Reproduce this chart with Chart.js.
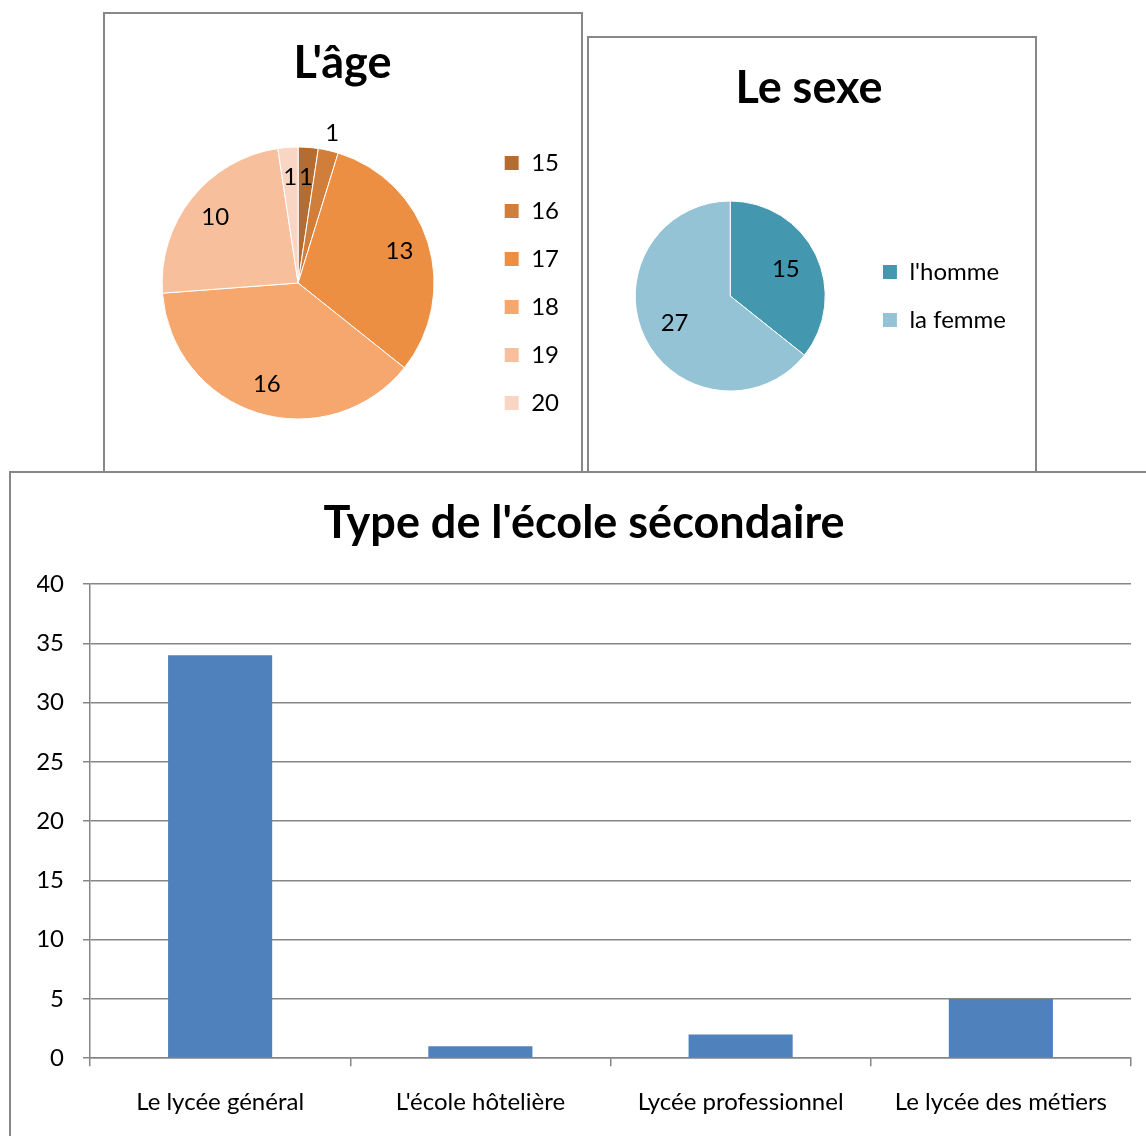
<!DOCTYPE html>
<html>
<head>
<meta charset="utf-8">
<script src="https://cdn.jsdelivr.net/npm/chart.js@4.4.1/dist/chart.umd.min.js"></script>
<style>
  html, body { margin: 0; padding: 0; background: #fff; }
  body { width: 1146px; height: 1136px; overflow: hidden; position: relative; }
  .panel { position: absolute; box-sizing: border-box; border: 2px solid #878787; background: #fff; }
  .panel canvas { position: absolute; left: -2px; top: -2px; }
</style>
</head>
<body>
<div class="panel" style="left:103px; top:12px; width:480px; height:520px;">
  <canvas id="ageChart" width="479" height="459"></canvas>
</div>
<div class="panel" style="left:587px; top:36px; width:450px; height:500px;">
  <canvas id="sexChart" width="448" height="435"></canvas>
</div>
<div class="panel" style="left:9px; top:471px; width:1150px; height:700px; z-index:2;">
  <canvas id="schoolChart" width="1150" height="700"></canvas>
</div>

<script>
// Age distribution
const ageLabels = ['15', '16', '17', '18', '19', '20'];
const ageValues = [1, 1, 13, 16, 10, 1];
const ageColors = ['#b46c31', '#d07e39', '#ec8f43', '#f6a76d', '#f8bf9d', '#f9d5c4'];

// Sex distribution
const sexLabels = ["l'homme", 'la femme'];
const sexValues = [15, 27];
const sexColors = ['#4398b0', '#93c3d5'];

// Secondary school type
const schoolLabels = ['Le lycée général', "L'école hôtelière", 'Lycée professionnel', 'Le lycée des métiers'];
const schoolValues = [34, 1, 2, 5];
const schoolColor = '#4f81bd';

const FONT = 'Lato, "Noto Sans", sans-serif';
const GREY = '#868686';
const TEXT_SIZE = 24;
const TITLE_SIZE = 45;

Chart.defaults.font.family = FONT;
Chart.defaults.color = '#000';
Chart.defaults.animation = false;

// value labels on pie slices; a label that would touch the previous one moves outside the pie
const sliceLabels = {
  id: 'sliceLabels',
  afterDatasetsDraw(chart, args, opts) {
    const { ctx } = chart;
    const meta = chart.getDatasetMeta(0);
    const values = chart.data.datasets[0].data;
    ctx.save();
    ctx.font = TEXT_SIZE + 'px ' + FONT;
    ctx.fillStyle = '#000';
    ctx.textAlign = 'center';
    ctx.textBaseline = 'middle';
    let prev = null;
    meta.data.forEach((arc, i) => {
      const { x, y, startAngle, endAngle, outerRadius } =
        arc.getProps(['x', 'y', 'startAngle', 'endAngle', 'outerRadius'], true);
      const mid = (startAngle + endAngle) / 2;
      const text = String(values[i]);
      const w = ctx.measureText(text).width;
      let r = outerRadius * opts.inside;
      let px = x + Math.cos(mid) * r;
      let py = y + Math.sin(mid) * r;
      if (prev && Math.abs(px - prev.x) < (w + prev.w) / 2 + 6 && Math.abs(py - prev.y) < TEXT_SIZE) {
        r = outerRadius * opts.outside;
        px = x + Math.cos(mid) * r;
        py = y + Math.sin(mid) * r;
      }
      ctx.fillText(text, px, py);
      prev = { x: px, y: py, w };
    });
    ctx.restore();
  }
};

function pieOptions(title, radius, padding, titlePad, labelPos) {
  return {
    responsive: false,
    radius: radius,
    layout: { padding: padding },
    plugins: {
      title: {
        display: true,
        text: title,
        font: { size: TITLE_SIZE, weight: 'bold' },
        padding: titlePad
      },
      legend: {
        position: 'right',
        fullSize: false,
        labels: { boxWidth: 15, boxHeight: 15, padding: 24, font: { size: TEXT_SIZE } }
      },
      tooltip: { enabled: false },
      sliceLabels: labelPos
    }
  };
}

new Chart(document.getElementById('ageChart'), {
  type: 'pie',
  data: {
    labels: ageLabels,
    datasets: [{
      data: ageValues,
      backgroundColor: ageColors,
      borderColor: '#fff',
      borderWidth: 1,
      hoverOffset: 0
    }]
  },
  options: pieOptions("L'âge", 136, { left: 13, right: 13, top: 0, bottom: 17 },
    { top: 24, bottom: 22 }, { inside: 0.78, outside: 1.13 }),
  plugins: [sliceLabels]
});

new Chart(document.getElementById('sexChart'), {
  type: 'pie',
  data: {
    labels: sexLabels,
    datasets: [{
      data: sexValues,
      backgroundColor: sexColors,
      borderColor: '#fff',
      borderWidth: 1,
      hoverOffset: 0
    }]
  },
  options: pieOptions('Le sexe', 95, { left: 15, right: 19, top: 0, bottom: 15 },
    { top: 25, bottom: 21 }, { inside: 0.65, outside: 1.13 }),
  plugins: [sliceLabels]
});

new Chart(document.getElementById('schoolChart'), {
  type: 'bar',
  data: {
    labels: schoolLabels,
    datasets: [{
      data: schoolValues,
      backgroundColor: schoolColor,
      barPercentage: 0.4,
      categoryPercentage: 1
    }]
  },
  options: {
    responsive: false,
    layout: { padding: { left: 28, right: 28, top: 0, bottom: 32 } },
    plugins: {
      title: {
        display: true,
        text: "Type de l'école sécondaire",
        font: { size: TITLE_SIZE, weight: 'bold' },
        padding: { top: 25, bottom: 34 }
      },
      legend: { display: false },
      tooltip: { enabled: false }
    },
    scales: {
      y: {
        min: 0,
        max: 40,
        // keep the value axis narrow so the title stays centred on the frame
        afterFit(scale) { scale.width = 53; },
        ticks: { stepSize: 5, font: { size: TEXT_SIZE }, padding: 19 },
        grid: { color: GREY, lineWidth: 1.5, tickLength: 7 },
        border: { color: GREY, width: 1.5 }
      },
      x: {
        ticks: { font: { size: TEXT_SIZE }, padding: 22, maxRotation: 0 },
        grid: { color: GREY, lineWidth: 1.5, tickLength: 8, drawOnChartArea: false, offset: true },
        border: { color: GREY, width: 1.5 }
      }
    }
  }
});
</script>
</body>
</html>
